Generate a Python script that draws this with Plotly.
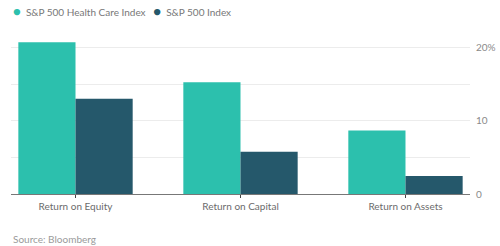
import plotly.graph_objects as go

categories = ["Return on Equity", "Return on Capital", "Return on Assets"]
health_care = [20.7, 15.25, 8.65]
sp500 = [13.0, 5.75, 2.45]
series_names = ["S&P 500 Health Care Index", "S&P 500 Index"]
tick_vals = [0, 5, 10, 15, 20]
tick_text = ["0", "", "10", "", "20%"]

TEAL = "#2cc0ad"
DARK = "#25586b"
FONT = "Lato"

fig = go.Figure()
fig.add_bar(x=categories, y=health_care, name=series_names[0], marker_color=TEAL,
            marker_line_width=0, showlegend=False)
fig.add_bar(x=categories, y=sp500, name=series_names[1], marker_color=DARK,
            marker_line_width=0, showlegend=False)

fig.update_layout(
    width=500, height=246,
    margin=dict(l=11, r=30, t=40, b=52),
    barmode="group", bargap=0.307, bargroupgap=0,
    plot_bgcolor="white", paper_bgcolor="white",
    font=dict(family=FONT, size=10, color="#666666"),
    showlegend=False,
    xaxis=dict(range=[-0.391, 2.391], showline=True, linecolor="#777777", linewidth=1,
               ticks="outside", ticklen=3, tickcolor="#444444", tickwidth=1, automargin=False,
               showgrid=False, tickfont=dict(size=10, color="#6b6b6b")),
    yaxis=dict(range=[0, 21], side="right", tickvals=tick_vals, ticktext=tick_text,
               showgrid=True, gridcolor="#ececec", gridwidth=1, zeroline=False, automargin=False,
               ticks="", ticklabelstandoff=5, tickfont=dict(size=10, color="#8a8a8a")),
)

fig.add_annotation(xref="paper", yref="paper", x=0.0, y=1.0, yshift=29,
                   xanchor="left", yanchor="middle", showarrow=False,
                   text=f"<span style='color:{TEAL};font-size:13px'>●</span>  {series_names[0]}"
                        f"   <span style='color:{DARK};font-size:13px'>●</span>  {series_names[1]}",
                   font=dict(size=10, color="#777777", family=FONT))
fig.add_annotation(xref="paper", yref="paper", x=0, y=0, yshift=-45,
                   xanchor="left", yanchor="middle", showarrow=False,
                   text="Source: Bloomberg", font=dict(size=10, color="#9a9a9a", family=FONT))

fig.write_html("out.html")
